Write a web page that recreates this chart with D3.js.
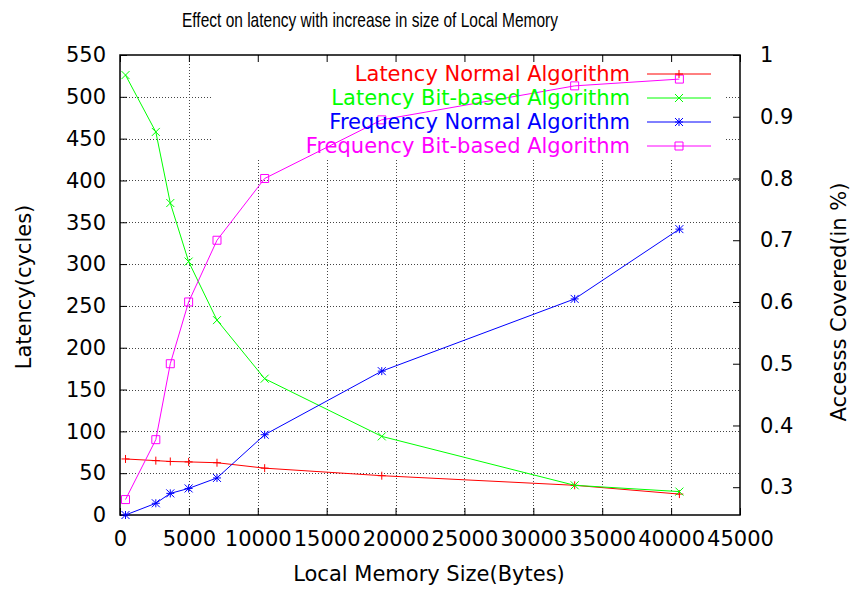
<!DOCTYPE html>
<html>
<head>
<meta charset="utf-8">
<script src="https://cdn.jsdelivr.net/npm/d3@7"></script>
<style>
body { margin: 0; background: #fff; }
text { font-family: "DejaVu Sans", sans-serif; }
</style>
</head>
<body>
<div id="chart"></div>
<script>
// data
var sizes = [400, 2600, 3650, 4980, 7040, 10500, 19000, 33000, 40600];
var latencyNormal = [67, 65, 64, 63.5, 62.5, 56, 47, 35.5, 25];
var latencyBit = [526, 458, 373, 303, 233, 163, 94, 35.5, 28];
var freqNormal = [0.255, 0.274, 0.29, 0.298, 0.315, 0.385, 0.488, 0.605, 0.718];
var freqBit = [0.28, 0.377, 0.5, 0.6, 0.7, 0.8, 0.895, 0.95, 0.961];

var xTicks = [0, 5000, 10000, 15000, 20000, 25000, 30000, 35000, 40000, 45000];
var yTicks = [0, 50, 100, 150, 200, 250, 300, 350, 400, 450, 500, 550];
var y2Ticks = [0.3, 0.4, 0.5, 0.6, 0.7, 0.8, 0.9, 1];

var seriesNames = ["Latency Normal Algorithm", "Latency Bit-based Algorithm",
    "Frequency Normal Algorithm", "Frequency Bit-based Algorithm"];

var w = 852, h = 591;
var plotL = 120, plotR = 740, plotT = 55, plotB = 515;
var fs = 21;

var series = [
    { name: seriesNames[0], values: latencyNormal, axis: "y", color: "#ff0000", sym: "plus" },
    { name: seriesNames[1], values: latencyBit, axis: "y", color: "#00ff00", sym: "cross" },
    { name: seriesNames[2], values: freqNormal, axis: "y2", color: "#0000ff", sym: "star" },
    { name: seriesNames[3], values: freqBit, axis: "y2", color: "#ff00ff", sym: "square" }
];

var svg = d3.select("#chart")
    .append("svg")
    .attr("width", w)
    .attr("height", h);

var x = d3.scaleLinear().domain([0, 45000]).range([plotL, plotR]);
var y = d3.scaleLinear().domain([0, 550]).range([plotB, plotT]);
var y2 = d3.scaleLinear().domain([0.255, 1]).range([plotB, plotT]);

// grid
var grid = svg.append("g")
    .attr("stroke", "#444")
    .attr("stroke-width", 1)
    .attr("stroke-dasharray", "1,2");

grid.selectAll(".gy")
    .data(yTicks.slice(1, -1))
    .enter()
    .append("line")
    .attr("x1", plotL).attr("x2", plotR)
    .attr("y1", (d) => Math.round(y(d)) + 0.5)
    .attr("y2", (d) => Math.round(y(d)) + 0.5);

grid.selectAll(".gx")
    .data(xTicks.slice(1, -1))
    .enter()
    .append("line")
    .attr("y1", plotT).attr("y2", plotB)
    .attr("x1", (d) => Math.round(x(d)) + 0.5)
    .attr("x2", (d) => Math.round(x(d)) + 0.5);

// key box hides the grid behind it
svg.append("rect")
    .attr("x", 212).attr("y", plotT + 1)
    .attr("width", 725 - 212).attr("height", 158 - plotT - 1)
    .attr("fill", "#fff");

// axes, ticks pointing inwards like gnuplot
function styleAxis(g) {
    g.select(".domain").remove();
    g.selectAll(".tick line").attr("stroke", "#000").attr("stroke-width", 1);
    g.selectAll("text").attr("fill", "#000");
    g.attr("font-size", fs).attr("font-family", "DejaVu Sans");
}

svg.append("g")
    .attr("transform", `translate(${plotL},0)`)
    .call(d3.axisLeft(y).tickValues(yTicks).tickSizeInner(-7).tickSizeOuter(0).tickPadding(14))
    .call(styleAxis);

svg.append("g")
    .attr("transform", `translate(0,${plotB})`)
    .call(d3.axisBottom(x).tickValues(xTicks).tickFormat(d3.format("d")).tickSizeInner(-7).tickSizeOuter(0).tickPadding(16))
    .call(styleAxis);

svg.append("g")
    .attr("transform", `translate(0,${plotT})`)
    .call(d3.axisTop(x).tickValues(xTicks).tickFormat("").tickSizeInner(-7).tickSizeOuter(0))
    .call(styleAxis);

svg.append("g")
    .attr("transform", `translate(${plotR},0)`)
    .call(d3.axisRight(y2).tickValues(y2Ticks).tickFormat(d3.format("")).tickSizeInner(-7).tickSizeOuter(0).tickPadding(20))
    .call(styleAxis);

// border
svg.append("rect")
    .attr("x", plotL).attr("y", plotT)
    .attr("width", plotR - plotL).attr("height", plotB - plotT)
    .attr("fill", "none")
    .attr("stroke", "#000")
    .attr("stroke-width", 1.5);

// point symbols
function symbolPath(sym, cx, cy) {
    var s = 4;
    var plus = `M${cx - s},${cy}H${cx + s}M${cx},${cy - s}V${cy + s}`;
    var cross = `M${cx - s},${cy - s}L${cx + s},${cy + s}M${cx - s},${cy + s}L${cx + s},${cy - s}`;
    if (sym == "plus") return plus;
    if (sym == "cross") return cross;
    if (sym == "star") return plus + cross;
    return `M${cx - s},${cy - s}H${cx + s}V${cy + s}H${cx - s}Z`;
}

series.forEach(function (s) {
    var ys = s.axis == "y" ? y : y2;
    var pts = sizes.map((d, i) => [x(d), ys(s.values[i])]);

    svg.append("path")
        .attr("d", d3.line()(pts))
        .attr("fill", "none")
        .attr("stroke", s.color)
        .attr("stroke-width", 1);

    svg.selectAll(null)
        .data(pts)
        .enter()
        .append("path")
        .attr("d", (d) => symbolPath(s.sym, d[0], d[1]))
        .attr("fill", "none")
        .attr("stroke", s.color)
        .attr("stroke-width", 1);
});

// key
var key = svg.append("g");
series.forEach(function (s, i) {
    var ky = 74 + i * 24;
    key.append("text")
        .attr("x", 630)
        .attr("y", ky)
        .attr("dy", "0.35em")
        .attr("text-anchor", "end")
        .attr("font-size", fs)
        .attr("fill", s.color)
        .text(s.name);
    key.append("line")
        .attr("x1", 647).attr("x2", 711)
        .attr("y1", ky).attr("y2", ky)
        .attr("stroke", s.color);
    key.append("path")
        .attr("d", symbolPath(s.sym, 679, ky))
        .attr("fill", "none")
        .attr("stroke", s.color);
});

// titles
svg.append("text")
    .attr("x", 370)
    .attr("y", 27)
    .attr("text-anchor", "middle")
    .attr("font-size", 21)
    .style("font-family", "Liberation Sans")
    .attr("textLength", 376)
    .attr("lengthAdjust", "spacingAndGlyphs")
    .text("Effect on latency with increase in size of Local Memory");

svg.append("text")
    .attr("x", 429)
    .attr("y", 581)
    .attr("text-anchor", "middle")
    .attr("font-size", fs)
    .text("Local Memory Size(Bytes)");

svg.append("text")
    .attr("transform", "translate(31,287) rotate(-90)")
    .attr("text-anchor", "middle")
    .attr("font-size", fs)
    .text("Latency(cycles)");

svg.append("text")
    .attr("transform", "translate(846,302) rotate(-90)")
    .attr("text-anchor", "middle")
    .attr("font-size", fs)
    .text("Accesss Covered(in %)");
</script>
</body>
</html>
